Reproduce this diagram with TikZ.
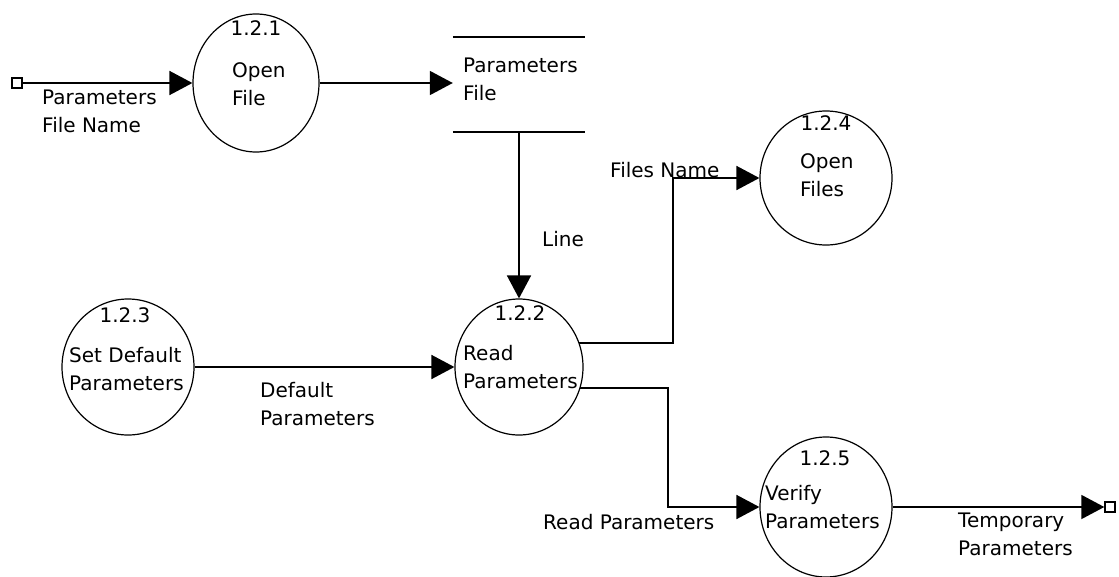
\documentclass[tikz,border=0pt]{standalone}
\usepackage{fontspec}
\setmainfont{DejaVu Sans}
\usetikzlibrary{arrows.meta,shapes.geometric}
\tikzset{
  proc/.style={draw, ellipse, line width=1.2pt, inner sep=0pt},
  flow/.style={line width=1.8pt, -{Triangle[length=23pt,width=24pt]}},
  plain/.style={line width=1.8pt},
  term/.style={draw, line width=1.4pt, minimum size=10pt, inner sep=0pt},
  lbl/.style={inner sep=0pt, align=left, anchor=north west, font=\fontsize{20}{28}\selectfont},
  num/.style={inner sep=0pt, anchor=north, font=\fontsize{20}{28}\selectfont},
  storebox/.style={minimum width=132pt, minimum height=95pt, inner sep=0pt}
}
\begin{document}
\begin{tikzpicture}[x=1pt,y=-1pt]
\useasboundingbox (0,0) rectangle (1119,576);
% processes
\node[proc, minimum width=126pt, minimum height=138pt] (p1) at (256,83) {};
\node[proc, minimum width=128pt, minimum height=136pt] (p2) at (519,367) {};
\node[proc, minimum width=132pt, minimum height=136pt] (p3) at (128,367) {};
\node[proc, minimum width=132pt, minimum height=134pt] (p4) at (826,178) {};
\node[proc, minimum width=132pt, minimum height=140pt] (p5) at (826,507) {};
% store
\node[storebox] (store) at (519,84.5) {};
\draw[line width=1.8pt] (store.north west) -- (store.north east);
\draw[line width=1.8pt] (store.south west) -- (store.south east);
% terminators
\node[term] (src) at (17,83) {};
\node[term] (sink) at (1110,507) {};
% junction coordinates
\coordinate (j1) at (673,0);
\coordinate (j2) at (668,0);
% texts in processes
\node[num] (n1) at (256,20) {1.2.1};
\node[lbl] (t1) at (232,62) {Open\\File};
\node[num] (n2) at (520,305) {1.2.2};
\node[lbl] (t2) at (463,345) {Read\\Parameters};
\node[num] (n3) at (125,307) {1.2.3};
\node[lbl] (t3) at (69,347) {Set Default\\Parameters};
\node[num] (n4) at (826,115) {1.2.4};
\node[lbl] (t4) at (800,153) {Open\\Files};
\node[num] (n5) at (825,450) {1.2.5};
\node[lbl] (t5) at (765,485) {Verify\\Parameters};
\node[lbl] (ts) at (463,58) {Parameters\\File};
% flow labels
\node[lbl] (l1) at (42,90) {Parameters\\File Name};
\node[lbl] (l2) at (542,231) {Line};
\node[lbl] (l3) at (260,382) {Default\\Parameters};
\node[lbl] (l4) at (610,162) {Files Name};
\node[lbl] (l5) at (543,514) {Read Parameters};
\node[lbl] (l6) at (958,513) {Temporary\\Parameters};
% flows
\draw[flow] (src.east) -- (p1.west);
\draw[flow] (p1.east) -- (p1.east -| store.west);
\draw[flow] (store.south) -- (p2.north);
\draw[flow] (p3.east) -- (p2.west);
\draw[flow] (p2.22) -| (j1 |- p4.west) -- (p4.west);
\draw[flow] (p2.-19) -| (j2 |- p5.west) -- (p5.west);
\draw[flow] (p5.east) -- (sink.west);
\end{tikzpicture}
\end{document}
